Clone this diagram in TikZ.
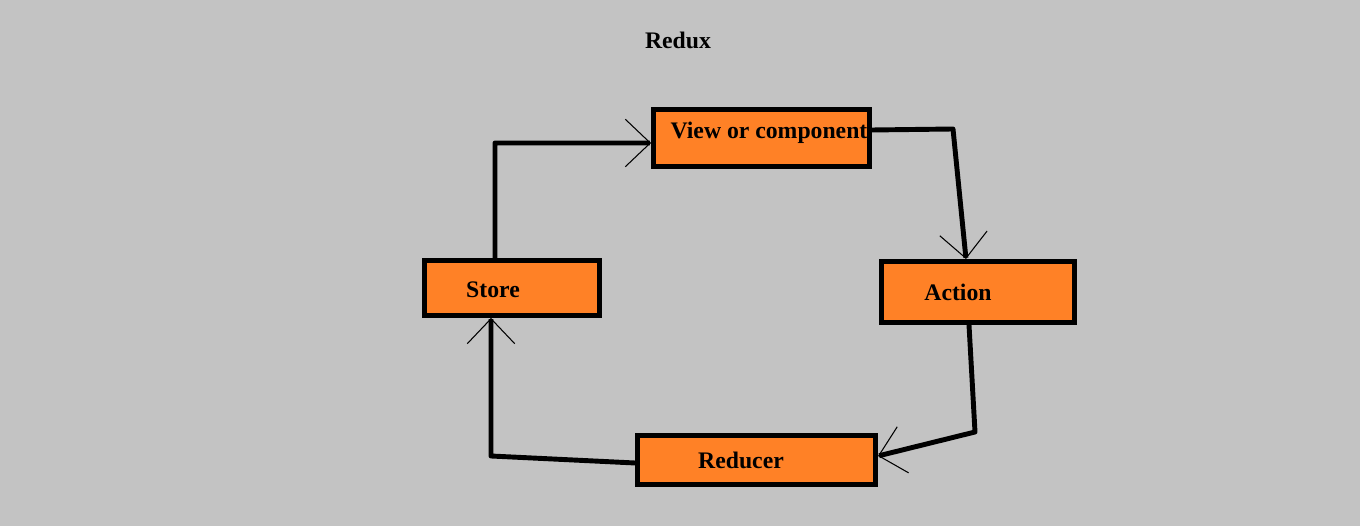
\documentclass[tikz,border=0pt]{standalone}
\usepackage{fontspec}
\setmainfont{Liberation Serif}
\usepackage{tikz}
\usetikzlibrary{arrows.meta, positioning}

\definecolor{bgsilver}{RGB}{195,195,195}
\definecolor{boxorange}{RGB}{255,129,38}

\tikzset{
  box/.style={draw=black,line width=2.8pt,fill=boxorange,inner sep=0pt},
  lbl/.style={font=\bfseries\fontsize{13.5}{16}\selectfont,text=black},
  flow/.style={line width=2.8pt,black,line join=round,
    -{Straight Barb[length=0.5cm,width=0.95cm,line width=0.6pt]}},
}

\begin{document}
\begin{tikzpicture}[x=0.02cm,y=-0.02cm]
  % canvas
  \fill[bgsilver] (0,0) rectangle (1360,526);
  \useasboundingbox (0,0) rectangle (1360,526);
  \node[lbl] (title) at (678,40) {Redux};
  % boxes
  \node[box,minimum width=4.32cm,minimum height=1.14cm,
        label={[lbl,xshift=0.15cm,yshift=0.1cm]center:View or component}] (view) at (761.5,138) {};
  \node[box,minimum width=3.5cm,minimum height=1.1cm,
        label={[lbl,xshift=-0.38cm,yshift=-0.03cm]center:Store}] (store) at (512,288) {};
  \node[box,minimum width=3.86cm,minimum height=1.22cm,
        label={[lbl,xshift=-0.4cm]center:Action}] (action) at (978,292) {};
  \node[box,minimum width=4.76cm,minimum height=0.98cm,
        label={[lbl,xshift=-0.31cm]center:Reducer}] (reducer) at (756.5,460) {};
  % bends
  \coordinate (vbend) at (953,129);
  \coordinate (abend) at (975,432);
  \coordinate (rbend) at (491,456);
  \coordinate (sbend) at (495,143);
  % cycle
  \draw[flow] ([yshift=0.16cm]view.east) -- (vbend) -- ([xshift=-0.24cm]action.north);
  \draw[flow] ([xshift=-0.18cm]action.south) -- (abend) -- ([yshift=0.08cm]reducer.east);
  \draw[flow] ([yshift=-0.06cm]reducer.west) -- (rbend) -- ([xshift=-0.42cm]store.south);
  \draw[flow] ([xshift=-0.34cm]store.north) -- (sbend) -- ([yshift=-0.1cm]view.west);
\end{tikzpicture}
\end{document}
